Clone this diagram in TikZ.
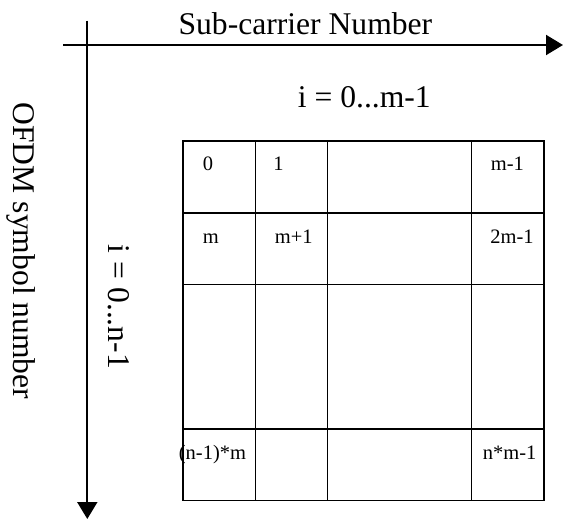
\documentclass[tikz,border=0pt]{standalone}
\usepackage{fontspec}
\setmainfont{Liberation Serif}
\usetikzlibrary{arrows.meta}

\tikzset{
	axis/.style={line width=1pt,-{Triangle[width=10pt,length=8.5pt]}},
	gridline/.style={line width=0.6pt},
	axistext/.style={anchor=base west,inner sep=0pt,font=\fontsize{15.8}{18}\selectfont},
	cell/.style={anchor=base west,inner sep=0pt,font=\fontsize{10.25}{12}\selectfont},
}

\begin{document}
\begin{tikzpicture}[x=0.5pt,y=-0.5pt]
	\useasboundingbox (0,0) rectangle (563,519);
	% axes
	\coordinate (xstart) at (63,45);
	\coordinate (xend) at (563,45);
	\coordinate (ystart) at (87.3,20.7);
	\coordinate (yend) at (87.3,519);
	\draw[axis] (xstart) -- (xend);
	\draw[axis] (ystart) -- (yend);
	\node[axistext] (carrier) at (178.2,35) {Sub-carrier Number};
	\node[axistext] (irange) at (297.5,108) {i = 0...m-1};
	\node[axistext,rotate=-90] (symbol) at (13,102.2) {OFDM symbol number};
	\node[axistext,rotate=-90] (nrange) at (108.3,244.5) {i = 0...n-1};
	% grid
	\draw[gridline] (183,141) rectangle (544,500.5);
	\foreach \x in {255.7,327.5,471.7}
		\draw[gridline] (\x,141) -- (\x,500.5);
	\foreach \y in {213,284.5,429}
		\draw[gridline] (183,\y) -- (544,\y);
	% cell numbers
	\node[cell] (c0) at (202.5,170) {0};
	\node[cell] (c1) at (273,170) {1};
	\node[cell] (clast) at (490.4,170) {m-1};
	\node[cell] (cm) at (202.5,243) {m};
	\node[cell] (cmone) at (274.5,243) {m+1};
	\node[cell] (ctwom) at (490,243) {2m-1};
	\node[cell] (cnm) at (178.5,459) {(n-1)*m};
	\node[cell] (cend) at (482.4,459) {n*m-1};
\end{tikzpicture}
\end{document}
